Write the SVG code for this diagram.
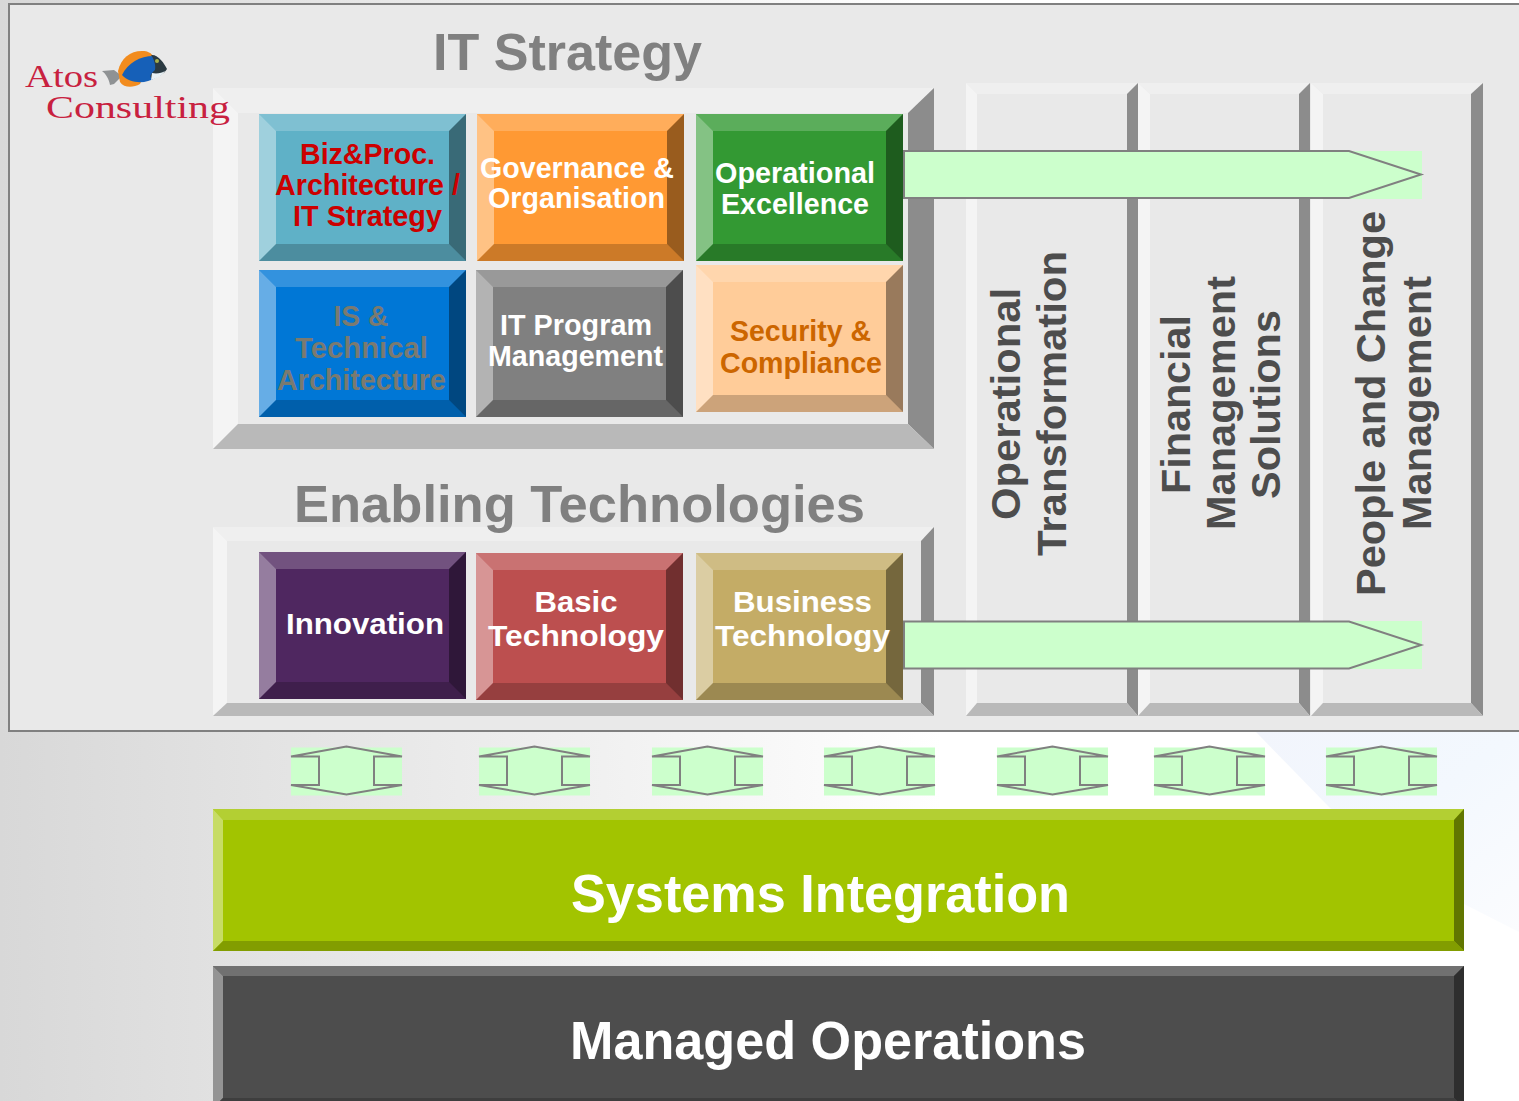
<svg xmlns="http://www.w3.org/2000/svg" width="1519" height="1101" viewBox="0 0 1519 1101">
<style>
text{font-family:"Liberation Sans",Arial,sans-serif;font-weight:700}
.tile{font-size:29.5px}
.title{font-size:52px;fill:#808080}
.bar{font-size:54px;fill:#fff}
.col{font-size:41px;fill:#4d4d4d}
.w{fill:#fff}.red{fill:#cc0000}.gy{fill:#7a7a70}.or{fill:#cc6600}
.hl{fill:#f4f4f4}.ht{fill:#efefef}.sr{fill:#8c8c8c}.sb{fill:#b9b9b9}
.bt{fill:#fff;fill-opacity:.2}.bl{fill:#fff;fill-opacity:.4}.br{fill:#000;fill-opacity:.4}.bb{fill:#000;fill-opacity:.2}
.arrow{fill:#ccffcc;stroke:#808080;stroke-width:2}
.box{fill:#ccffcc}
.logo{font-family:"Liberation Serif",serif;font-weight:400;fill:#c8213f;font-size:32px}
</style>
<defs>
<linearGradient id="bg" x1="0" x2="1" y1="0" y2="0"><stop offset="0" stop-color="#d8d8d8"/><stop offset=".62" stop-color="#ffffff"/></linearGradient>
<linearGradient id="glow" x1="0" x2="1" y1="0" y2="1"><stop offset="0" stop-color="#f2f5fc"/><stop offset=".5" stop-color="#f3f8fe"/><stop offset="1" stop-color="#fbfcfe"/></linearGradient>
<g id="bevel">
<polygon class="bt" points="0,0 207,0 190,17 17,17"/>
<polygon class="bl" points="0,0 17,17 17,130 0,147"/>
<polygon class="br" points="207,0 207,147 190,130 190,17"/>
<polygon class="bb" points="0,147 17,130 190,130 207,147"/>
</g>
<g id="dbl">
<rect class="box" x="0" y="1" width="111" height="48"/>
<polygon class="arrow" points="55.5,0 0,10 28,10 28,38.500 0,38.500 55.5,48 111,38.500 83,38.500 83,10 111,10"/>
</g>
</defs>
<rect width="1519" height="1101" fill="url(#bg)"/>
<polygon points="1256,732 1519,732 1519,932 1464,904 1330,808" fill="url(#glow)"/>
<rect x="9" y="4" width="1520" height="727" fill="#e9e9e9" stroke="#808080" stroke-width="2"/>

<g id="frame-it-strategy">
<polygon class="ht" points="213,88 934,88 908,113 238,113"/>
<polygon class="hl" points="213,88 238,113 238,424 213,449"/>
<polygon class="sr" points="934,88 934,449 908,424 908,113"/>
<polygon class="sb" points="213,449 238,424 908,424 934,449"/>
<text class="title" x="433" y="70" textLength="269" lengthAdjust="spacingAndGlyphs">IT Strategy</text>
</g>
<g id="frame-enabling">
<polygon class="ht" points="213,527 934,527 921,541 227,541"/>
<polygon class="hl" points="213,527 227,541 227,703 213,716"/>
<polygon class="sr" points="934,527 934,716 921,703 921,541"/>
<polygon class="sb" points="213,716 227,703 921,703 934,716"/>
<text class="title" x="294" y="522" textLength="571" lengthAdjust="spacingAndGlyphs">Enabling Technologies</text>
</g>

<g id="logo">
<text class="logo" x="25" y="87" textLength="73" lengthAdjust="spacingAndGlyphs">Atos</text>
<text class="logo" x="46" y="118" textLength="184" lengthAdjust="spacingAndGlyphs">Consulting</text>
<path d="M102,71 L114,70 L122,76 L114,84 L110,85 C109,79 106,74 102,71Z" fill="#8f9294"/>
<path d="M118,71 C121,58 130,51 142,51 C148,51 151,53 153,56 L140,84 C133,88 124,88 120,82 Z" fill="#f28c1e"/>
<path d="M122,75 C128,62 142,55 156,56 C160,62 161,72 155,78 C146,84 130,84 122,75Z" fill="#1660b8"/>
<path d="M151,55 C158,54 164,63 167,69 C164,74 158,77 152,79 C148,76 153,72 155,70 C156,65 154,59 151,55Z" fill="#2b3a42"/>
<path d="M152,73 C157,74 162,73 165,71 C162,76 157,78 151,80Z" fill="#e8f0f4"/>
<circle cx="157" cy="61" r="2" fill="#a7b04c"/>
</g>

<g id="col-operational">
<polygon class="ht" points="966,83 1138,83 1127,94 977,94"/>
<polygon class="hl" points="966,83 977,94 977,703 966,716"/>
<polygon class="sr" points="1138,83 1138,716 1127,703 1127,94"/>
<polygon class="sb" points="966,716 977,703 1127,703 1138,716"/>
<text class="col" transform="translate(1020,520) rotate(-90)" textLength="232" lengthAdjust="spacingAndGlyphs">Operational</text>
<text class="col" transform="translate(1066,556) rotate(-90)" textLength="305" lengthAdjust="spacingAndGlyphs">Transformation</text>
</g>
<g id="col-financial">
<polygon class="ht" points="1138,83 1310,83 1299,94 1150,94"/>
<polygon class="hl" points="1138,83 1150,94 1150,703 1138,716"/>
<polygon class="sr" points="1310,83 1310,716 1299,703 1299,94"/>
<polygon class="sb" points="1138,716 1150,703 1299,703 1310,716"/>
<text class="col" transform="translate(1190,494) rotate(-90)" textLength="179" lengthAdjust="spacingAndGlyphs">Financial</text>
<text class="col" transform="translate(1235,530) rotate(-90)" textLength="254" lengthAdjust="spacingAndGlyphs">Management</text>
<text class="col" transform="translate(1280,499) rotate(-90)" textLength="189" lengthAdjust="spacingAndGlyphs">Solutions</text>
</g>
<g id="col-people">
<polygon class="ht" points="1311,83 1483,83 1471,94 1323,94"/>
<polygon class="hl" points="1311,83 1323,94 1323,703 1311,716"/>
<polygon class="sr" points="1483,83 1483,716 1471,703 1471,94"/>
<polygon class="sb" points="1311,716 1323,703 1471,703 1483,716"/>
<text class="col" transform="translate(1385,596) rotate(-90)" textLength="385" lengthAdjust="spacingAndGlyphs">People and Change</text>
<text class="col" transform="translate(1431,530) rotate(-90)" textLength="254" lengthAdjust="spacingAndGlyphs">Management</text>
</g>

<g id="tile-biz"><rect x="259" y="114" width="207" height="147" fill="#5fb1c7"/><use href="#bevel" x="259" y="114"/>
<text class="tile red" x="300" y="164" textLength="135" lengthAdjust="spacingAndGlyphs">Biz&amp;Proc.</text>
<text class="tile red" x="275" y="195" textLength="185" lengthAdjust="spacingAndGlyphs">Architecture /</text>
<text class="tile red" x="293" y="226" textLength="149" lengthAdjust="spacingAndGlyphs">IT Strategy</text></g>
<g id="tile-gov"><rect x="477" y="114" width="207" height="147" fill="#ff9933"/><use href="#bevel" x="477" y="114"/>
<text class="tile w" x="480" y="178" textLength="194" lengthAdjust="spacingAndGlyphs">Governance &amp;</text>
<text class="tile w" x="488" y="208" textLength="177" lengthAdjust="spacingAndGlyphs">Organisation</text></g>
<g id="tile-opex"><rect x="696" y="114" width="207" height="147" fill="#339933"/><use href="#bevel" x="696" y="114"/>
<text class="tile w" x="715" y="183" textLength="160" lengthAdjust="spacingAndGlyphs">Operational</text>
<text class="tile w" x="721" y="214" textLength="148" lengthAdjust="spacingAndGlyphs">Excellence</text></g>
<g id="tile-is"><rect x="259" y="270" width="207" height="147" fill="#0077d6"/><use href="#bevel" x="259" y="270"/>
<text class="tile gy" x="333.500" y="326" textLength="55" lengthAdjust="spacingAndGlyphs">IS &amp;</text>
<text class="tile gy" x="295" y="358" textLength="133" lengthAdjust="spacingAndGlyphs">Technical</text>
<text class="tile gy" x="277" y="390" textLength="169" lengthAdjust="spacingAndGlyphs">Architecture</text></g>
<g id="tile-program"><rect x="476" y="270" width="207" height="147" fill="#808080"/><use href="#bevel" x="476" y="270"/>
<text class="tile w" x="500" y="335" textLength="152" lengthAdjust="spacingAndGlyphs">IT Program</text>
<text class="tile w" x="488" y="366" textLength="175" lengthAdjust="spacingAndGlyphs">Management</text></g>
<g id="tile-security"><rect x="696" y="265" width="207" height="147" fill="#ffcc99"/><use href="#bevel" x="696" y="265"/>
<text class="tile or" x="730" y="341" textLength="141" lengthAdjust="spacingAndGlyphs">Security &amp;</text>
<text class="tile or" x="720" y="373" textLength="162" lengthAdjust="spacingAndGlyphs">Compliance</text></g>
<g id="tile-innovation"><rect x="259" y="552" width="207" height="147" fill="#4f2760"/><use href="#bevel" x="259" y="552"/>
<text class="tile w" x="286" y="634" textLength="158" lengthAdjust="spacingAndGlyphs">Innovation</text></g>
<g id="tile-basic"><rect x="476" y="553" width="207" height="147" fill="#bc4f4f"/><use href="#bevel" x="476" y="553"/>
<text class="tile w" x="534.500" y="612" textLength="83" lengthAdjust="spacingAndGlyphs">Basic</text>
<text class="tile w" x="488" y="646" textLength="176" lengthAdjust="spacingAndGlyphs">Technology</text></g>
<g id="tile-business"><rect x="696" y="553" width="207" height="147" fill="#c4ac66"/><use href="#bevel" x="696" y="553"/>
<text class="tile w" x="733" y="612" textLength="139" lengthAdjust="spacingAndGlyphs">Business</text>
<text class="tile w" x="715" y="646" textLength="175" lengthAdjust="spacingAndGlyphs">Technology</text></g>

<g id="connectors">
<rect class="box" x="904" y="151" width="518" height="48"/>
<polygon class="arrow" points="904,151 1349,151 1421,174.500 1349,198 904,198"/>
<rect class="box" x="904" y="621" width="518" height="48"/>
<polygon class="arrow" points="904,621.500 1349,621.500 1421,645 1349,668.500 904,668.500"/>
<use href="#dbl" x="291" y="746.500"/>
<use href="#dbl" x="479" y="746.500"/>
<use href="#dbl" x="652" y="746.500"/>
<use href="#dbl" x="824" y="746.500"/>
<use href="#dbl" x="997" y="746.500"/>
<use href="#dbl" x="1154" y="746.500"/>
<use href="#dbl" x="1326" y="746.500"/>
</g>

<g id="bar-si">
<rect x="213" y="809" width="1251" height="142" fill="#a2c400"/>
<polygon points="213,809 1464,809 1454,820 223,820" fill="#b3cf33"/>
<polygon points="213,809 223,820 223,941 213,951" fill="#c7dc66"/>
<polygon points="1464,809 1464,951 1454,941 1454,820" fill="#617600"/>
<polygon points="213,951 223,941 1454,941 1464,951" fill="#829d00"/>
<text class="bar" x="571" y="912" textLength="499" lengthAdjust="spacingAndGlyphs">Systems Integration</text>
</g>
<g id="bar-mo">
<rect x="213" y="966" width="1251" height="142" fill="#4d4d4d"/>
<polygon points="213,966 1464,966 1454,976 223,976" fill="#717171"/>
<polygon points="213,966 223,976 223,1098 213,1108" fill="#949494"/>
<polygon points="1464,966 1464,1108 1454,1098 1454,976" fill="#2e2e2e"/>
<polygon points="213,1108 223,1098 1454,1098 1464,1108" fill="#3e3e3e"/>
<text class="bar" x="570" y="1059" textLength="516" lengthAdjust="spacingAndGlyphs">Managed Operations</text>
</g>
</svg>
